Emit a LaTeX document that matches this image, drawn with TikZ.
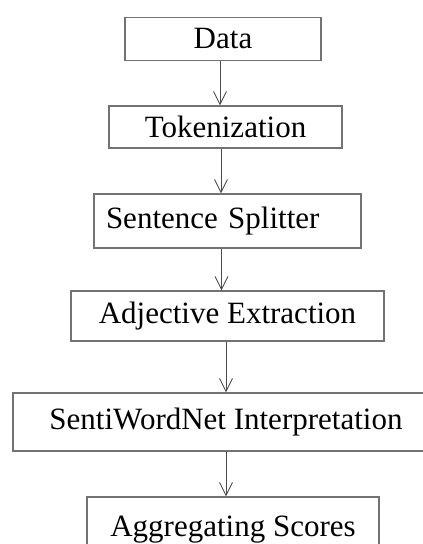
\documentclass[tikz,border=0pt]{standalone}
\usepackage{fontspec}
\setmainfont{Liberation Serif}
\usetikzlibrary{arrows.meta}

\begin{document}
\begin{tikzpicture}[x=1pt,y=-1pt,
  stage/.style = {draw=black!55, line width=1.2pt, inner sep=0pt, font=\fontsize{31}{36}\selectfont},
  flow/.style = {draw=black!70, line width=0.9pt, -{Straight Barb[length=13pt,width=13pt]}}]
\path[use as bounding box, fill=white] (0,0) rectangle (423,544);
\node[stage, minimum width=196pt, minimum height=43pt] (data) at (223,39) {Data};
\node[stage, minimum width=233pt, minimum height=42pt] (tok) at (225.5,127) {Tokenization};
\node[stage, minimum height=54pt, text width=243pt, align=left, inner xsep=12pt] (split) at (227.5,221) {Sentence Splitter};
\node[stage, minimum width=313pt, minimum height=50pt] (adj) at (227.5,316) {Adjective Extraction};
\node[stage, minimum width=426pt, minimum height=58pt] (senti) at (226,422) {SentiWordNet Interpretation};
\node[stage, minimum width=292pt, minimum height=66pt] (agg) at (233,530) {Aggregating Scores};
\foreach \a/\b/\s in {data/tok/-3, tok/split/-4.5, split/adj/-6, adj/senti/-1.5, senti/agg/0}
  \draw[flow] ([xshift=\s pt]\a.south) -- ([xshift=\s pt]\a.south |- \b.north);
\end{tikzpicture}
\end{document}
